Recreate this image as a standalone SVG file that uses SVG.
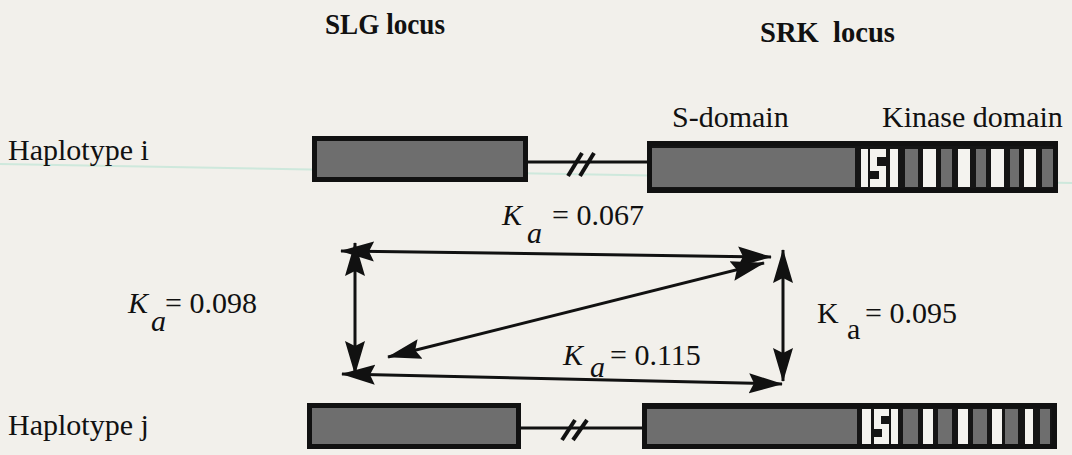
<svg xmlns="http://www.w3.org/2000/svg" width="1072" height="455" viewBox="0 0 1072 455">
<style>
  .lbl{font-family:"Liberation Serif","Times New Roman",serif;font-size:30px;fill:#111}
  .ttl{font-family:"Liberation Serif","Times New Roman",serif;font-size:30px;font-weight:bold;fill:#111}
  .it{font-style:italic}
  .box{stroke:#111;stroke-width:5}
  .gray{fill:#6e6e6e}
  .wht{fill:#f4f3ef}
  .blk{fill:#151515}
  .ln{stroke:#111;stroke-width:3;fill:none}
  .sl{stroke:#111;stroke-width:4;fill:none}
  .arr{stroke:#111;stroke-width:3;fill:none;marker-start:url(#ah);marker-end:url(#ah)}
</style>
<defs>
  <marker id="ah" viewBox="0 0 34 22" markerWidth="34" markerHeight="22" refX="33" refY="11" orient="auto-start-reverse" markerUnits="userSpaceOnUse">
    <path d="M0,1 L34,11 L0,21 L5,11 z" fill="#111"/>
  </marker>
</defs>
<rect width="1072" height="455" fill="#f2f0eb"/>
<line x1="0" y1="164" x2="1072" y2="183" stroke="#bfe6d6" stroke-width="2" opacity="0.7"/>

<g id="titles">
  <text class="ttl" x="325" y="34" textLength="120" lengthAdjust="spacingAndGlyphs">SLG locus</text>
  <text class="ttl" x="760" y="42" textLength="135" lengthAdjust="spacingAndGlyphs" xml:space="preserve">SRK  locus</text>
</g>

<g id="haplotype-i-label"><text class="lbl" x="8" y="160">Haplotype i</text></g>
<g id="haplotype-j-label"><text class="lbl" x="8" y="435">Haplotype j</text></g>

<g id="domain-labels">
  <text class="lbl" x="672" y="127">S-domain</text>
  <text class="lbl" x="882" y="127">Kinase domain</text>
</g>

<g id="slg-i">
  <rect class="box gray" x="314.5" y="138.5" width="211" height="41"/>
</g>
<g id="link-i">
  <line class="ln" x1="527" y1="162" x2="648" y2="162"/>
  <line class="sl" x1="568" y1="176" x2="582" y2="153"/>
  <line class="sl" x1="580" y1="176" x2="594" y2="153"/>
</g>
<g id="srk-i">
  <rect class="box blk" x="649.5" y="143.5" width="406" height="47"/>
  <rect class="gray" x="652" y="148" width="203" height="39"/>
  <rect class="wht" x="861" y="149" width="7" height="38"/>
  <rect class="wht" x="870" y="149" width="16" height="38"/>
  <rect class="blk" x="877" y="157" width="9" height="9"/>
  <rect class="blk" x="870" y="171" width="9" height="8"/>
  <rect class="wht" x="890" y="149" width="8" height="38"/>
  <rect class="gray" x="905" y="149" width="13" height="38"/>
  <rect class="wht" x="923" y="149" width="13" height="38"/>
  <rect class="gray" x="941" y="149" width="11" height="38"/>
  <rect class="wht" x="958" y="149" width="12" height="38"/>
  <rect class="gray" x="976" y="149" width="10" height="38"/>
  <rect class="wht" x="991" y="149" width="13" height="38"/>
  <rect class="gray" x="1010" y="149" width="9" height="38"/>
  <rect class="wht" x="1024" y="149" width="12" height="38"/>
  <rect class="gray" x="1042" y="149" width="11" height="38"/>
</g>

<g id="slg-j">
  <rect class="box gray" x="309.5" y="405.5" width="209" height="41"/>
</g>
<g id="link-j">
  <line class="ln" x1="520" y1="428" x2="644" y2="428"/>
  <line class="sl" x1="562" y1="440" x2="575" y2="420"/>
  <line class="sl" x1="573" y1="440" x2="587" y2="420"/>
</g>
<g id="srk-j">
  <rect class="box blk" x="644.5" y="405.5" width="410" height="41"/>
  <rect class="gray" x="647" y="409" width="210" height="35"/>
  <rect class="wht" x="862" y="409" width="9" height="35"/>
  <rect class="wht" x="874" y="409" width="15" height="35"/>
  <rect class="blk" x="881" y="416" width="8" height="8"/>
  <rect class="blk" x="874" y="429" width="8" height="8"/>
  <rect class="wht" x="891" y="409" width="7" height="35"/>
  <rect class="gray" x="903" y="409" width="15" height="35"/>
  <rect class="wht" x="923" y="409" width="10" height="35"/>
  <rect class="gray" x="938" y="409" width="14" height="35"/>
  <rect class="wht" x="958" y="409" width="10" height="35"/>
  <rect class="gray" x="973" y="409" width="14" height="35"/>
  <rect class="wht" x="992" y="409" width="10" height="35"/>
  <rect class="gray" x="1005" y="409" width="13" height="35"/>
  <rect class="wht" x="1025" y="409" width="8" height="35"/>
  <rect class="gray" x="1040" y="409" width="10" height="35"/>
</g>

<g id="connectors">
  <line class="arr" x1="341" y1="251" x2="771" y2="257"/>
  <line class="arr" x1="355" y1="243" x2="355" y2="374"/>
  <line class="arr" x1="783" y1="250" x2="783" y2="381"/>
  <line class="arr" x1="342" y1="374" x2="782" y2="384"/>
  <line class="arr" x1="388" y1="357" x2="764" y2="263"/>
</g>

<g id="ka-labels">
  <g id="ka-067">
    <text class="lbl it" x="502" y="225">K</text>
    <text class="lbl it" x="527" y="243">a</text>
    <text class="lbl" x="552" y="225">= 0.067</text>
  </g>
  <g id="ka-098">
    <text class="lbl it" x="128" y="313">K</text>
    <text class="lbl it" x="151" y="331">a</text>
    <text class="lbl" x="165" y="313">= 0.098</text>
  </g>
  <g id="ka-095">
    <text class="lbl" x="817" y="323">K</text>
    <text class="lbl" x="847" y="339">a</text>
    <text class="lbl" x="865" y="323">= 0.095</text>
  </g>
  <g id="ka-115">
    <text class="lbl it" x="563" y="365">K</text>
    <text class="lbl it" x="590" y="377">a</text>
    <text class="lbl" x="610" y="365">= 0.115</text>
  </g>
</g>
</svg>
